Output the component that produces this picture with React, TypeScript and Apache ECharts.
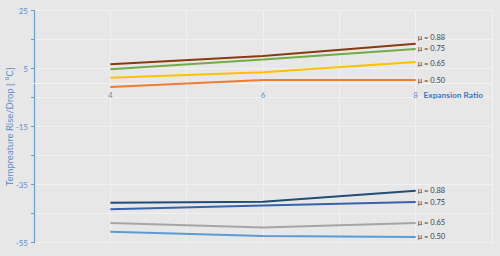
import React, { useEffect, useRef } from "react";
import * as echarts from "echarts";

const expansionRatios = [4, 6, 8];
const rise088 = [6.5, 9.4, 13.6];
const rise075 = [4.8, 8.2, 11.8];
const rise065 = [1.9, 3.8, 7.3];
const rise050 = [-1.3, 1.1, 1.1];
const drop088 = [-41.2, -40.9, -37.1];
const drop075 = [-43.5, -42.2, -41.0];
const drop065 = [-48.2, -49.8, -48.2];
const drop050 = [-51.2, -52.7, -53.0];
const seriesLabels = ["μ = 0.88", "μ = 0.75", "μ = 0.65", "μ = 0.50"];
const yTickLabels = [25, 5, -15, -35, -55];
const xTickLabels = [4, 6, 8];

const FONT = "Lato";
const BLUE_TEXT = "#5b8fc9";
const Y_MIN = -55;
const Y_MAX = 25;
const GRID_TOP = 10.7;
const GRID_BOTTOM = 13.3;
const GRID_H = 256 - GRID_TOP - GRID_BOTTOM;

export default function App() {
  const ref = useRef<HTMLDivElement>(null);
  useEffect(() => {
    if (!ref.current) return;
    const chart = echarts.init(ref.current, undefined, { renderer: "svg" });
    const zeroOffset = -(GRID_H * (0 - Y_MIN)) / (Y_MAX - Y_MIN);
    const mk = (
      values: number[],
      label: string,
      color: string,
      offsetY: number
    ) => ({
      type: "line",
      data: values.map((v, i) => [expansionRatios[i], v]),
      showSymbol: false,
      symbol: "none",
      lineStyle: { color, width: 2 },
      itemStyle: { color },
      endLabel: {
        show: true,
        formatter: label,
        distance: 2,
        offset: [0, offsetY],
        color: "#404040",
        fontSize: 7.5,
        fontFamily: FONT,
      },
      z: 3,
    });
    chart.setOption({
      animation: false,
      backgroundColor: "#e8e7e7",
      grid: {
        left: 34,
        right: 8,
        top: GRID_TOP,
        bottom: GRID_BOTTOM,
        containLabel: false,
        outerBoundsMode: "none",
      },
      xAxis: {
        type: "value",
        min: 3,
        max: 9,
        interval: 1,
        position: "bottom",
        offset: zeroOffset,
        name: "Expansion Ratio",
        nameLocation: "end",
        nameGap: -9,
        nameMoveOverlap: false,
        nameTextStyle: {
          color: "#3a78bf",
          fontWeight: "bold",
          fontSize: 8.3,
          fontFamily: FONT,
          align: "right",
          verticalAlign: "top",
          padding: [8, 0, 0, 0],
        },
        axisLine: { onZero: false, lineStyle: { color: "#f3f3f3", width: 1 } },
        axisTick: { show: false },
        axisLabel: {
          color: BLUE_TEXT,
          fontSize: 8,
          fontFamily: FONT,
          margin: 8,
          formatter: (v: number) => (xTickLabels.includes(v) ? String(v) : ""),
        },
        splitLine: { show: true, lineStyle: { color: "#f1f1f1", width: 1 } },
      },
      yAxis: {
        type: "value",
        min: Y_MIN,
        max: Y_MAX,
        interval: 10,
        name: "Tempreature Rise/Drop [ °C]",
        nameLocation: "middle",
        nameGap: 20,
        nameMoveOverlap: false,
        nameTextStyle: { color: BLUE_TEXT, fontSize: 9.5, fontFamily: FONT },
        axisLine: { show: true, lineStyle: { color: "#6a9fd6", width: 1.2 } },
        axisTick: { show: true, length: 3, lineStyle: { color: "#6a9fd6" } },
        axisLabel: {
          color: BLUE_TEXT,
          fontSize: 8,
          fontFamily: FONT,
          margin: 6,
          formatter: (v: number) => (yTickLabels.includes(v) ? String(v) : ""),
        },
        splitLine: { show: true, lineStyle: { color: "#f1f1f1", width: 1 } },
      },
      series: [
        mk(rise088, seriesLabels[0], "#8b3a10", -6),
        mk(rise075, seriesLabels[1], "#70ad47", 0),
        mk(rise065, seriesLabels[2], "#ffc000", 1),
        mk(rise050, seriesLabels[3], "#ed7d31", 0),
        mk(drop088, seriesLabels[0], "#1f4e79", 0),
        mk(drop075, seriesLabels[1], "#3563ad", 0),
        mk(drop065, seriesLabels[2], "#a5a5a5", 0),
        mk(drop050, seriesLabels[3], "#5b9bd5", 0),
      ],
    });
    return () => chart.dispose();
  }, []);
  return (
    <div
      ref={ref}
      style={{ position: "fixed", left: 0, top: 0, width: 500, height: 256 }}
    />
  );
}
